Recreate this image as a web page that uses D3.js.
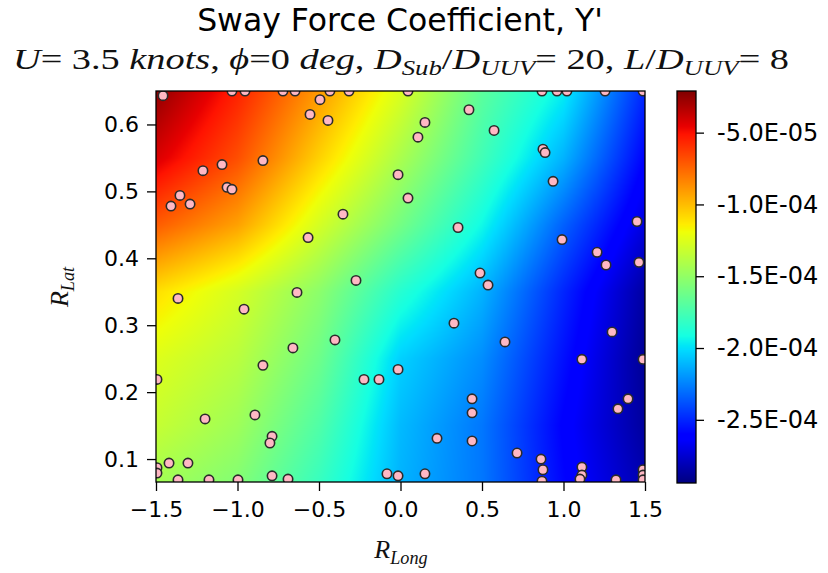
<!DOCTYPE html>
<html>
<head>
<meta charset="utf-8">
<script src="https://cdn.jsdelivr.net/npm/d3@7"></script>
<style>
body { margin: 0; background: #fff; }
</style>
</head>
<body>
<svg width="828" height="573"></svg>
<script>
// field samples (values of Y')
var xGrid = [-1.5, -1.0, -0.5, 0.0, 0.5, 1.0, 1.5];
var yGrid = [0.066, 0.15, 0.25, 0.35, 0.45, 0.55, 0.65];
var gridVals = [
    [-1.44e-4, -1.55e-4, -1.80e-4, -2.12e-4, -2.28e-4, -2.59e-4, -2.83e-4],
    [-1.33e-4, -1.46e-4, -1.72e-4, -2.10e-4, -2.28e-4, -2.61e-4, -2.87e-4],
    [-1.25e-4, -1.37e-4, -1.62e-4, -2.04e-4, -2.22e-4, -2.56e-4, -2.89e-4],
    [-1.10e-4, -1.28e-4, -1.52e-4, -1.86e-4, -2.12e-4, -2.50e-4, -2.86e-4],
    [-0.72e-4, -0.92e-4, -1.28e-4, -1.60e-4, -1.93e-4, -2.34e-4, -2.72e-4],
    [-0.42e-4, -0.68e-4, -1.06e-4, -1.42e-4, -1.77e-4, -2.12e-4, -2.60e-4],
    [-0.25e-4, -0.55e-4, -0.90e-4, -1.26e-4, -1.68e-4, -1.96e-4, -2.50e-4]
];

// sample points
var ptX = [-1.034, -0.954, -0.721, -0.647, -0.433, -0.316, 0.046, 0.868, 0.960, 1.021, 1.255, 1.488,
    -1.457, -0.494, -0.555, -0.445, -0.844, -1.095, -1.212, -1.064, -1.034, -1.353, -1.408, -1.291,
    -0.015, -0.353, -0.567, -0.273, 0.420, 0.150, 0.107, 0.574, 0.874, 0.887, 0.936, 0.046, 0.353,
    1.451, 0.991, 1.206, 1.261, 1.463, 0.488, 0.537, -1.365, -0.635, -0.960, -0.402, -0.660, -0.844,
    -1.494, -0.224, -0.132, -0.015, -1.199, -0.893, -0.788, -0.801, -1.420, -1.304, -1.494, -1.494,
    -1.365, -1.175, -0.997, -0.788, -0.690, -0.083, -0.015, 0.328, 0.641, 1.298, 1.113, 1.488,
    0.439, 0.439, 1.396, 1.334, 0.224, 0.439, 0.715, 0.862, 0.874, 1.113, 1.113, 1.101, 0.150,
    0.868, 1.322, 1.488, 1.488, 1.488];
var ptY = [0.650, 0.650, 0.650, 0.650, 0.650, 0.650, 0.650, 0.650, 0.650, 0.650, 0.650, 0.650,
    0.643, 0.637, 0.615, 0.606, 0.546, 0.540, 0.531, 0.506, 0.503, 0.494, 0.478, 0.481,
    0.525, 0.466, 0.431, 0.367, 0.622, 0.603, 0.581, 0.591, 0.563, 0.558, 0.515, 0.490, 0.446,
    0.455, 0.428, 0.409, 0.390, 0.394, 0.378, 0.360, 0.340, 0.349, 0.324, 0.278, 0.266, 0.240,
    0.219, 0.219, 0.219, 0.234, 0.160, 0.166, 0.134, 0.124, 0.094, 0.094, 0.087, 0.079,
    0.069, 0.069, 0.069, 0.075, 0.070, 0.078, 0.075, 0.303, 0.275, 0.290, 0.249, 0.249,
    0.190, 0.169, 0.190, 0.175, 0.131, 0.127, 0.109, 0.100, 0.084, 0.088, 0.076, 0.070, 0.078,
    0.067, 0.069, 0.084, 0.076, 0.069];

var xTicks = [-1.5, -1.0, -0.5, 0.0, 0.5, 1.0, 1.5];
var yTicks = [0.1, 0.2, 0.3, 0.4, 0.5, 0.6];
var cTicks = [-5e-5, -1e-4, -1.5e-4, -2e-4, -2.5e-4];
var cMin = -2.94e-4, cMax = -2.1e-5;

var svg = d3.select('svg');
var pLeft = 156, pRight = 645, pTop = 91, pBottom = 482;

var scaleX = d3.scaleLinear().domain([-1.5, 1.5]).range([pLeft, pRight]);
var scaleY = d3.scaleLinear().domain([0.0657, 0.65]).range([pBottom, pTop]);

// jet colormap
var jr = d3.scaleLinear().domain([0, 0.35, 0.66, 0.89, 1]).range([0, 0, 1, 1, 0.5]).clamp(true);
var jg = d3.scaleLinear().domain([0, 0.125, 0.375, 0.64, 0.91, 1]).range([0, 0, 1, 1, 0, 0]).clamp(true);
var jb = d3.scaleLinear().domain([0, 0.11, 0.34, 0.65, 1]).range([0.5, 1, 1, 0, 0]).clamp(true);
var toT = d3.scaleLinear().domain([cMin, cMax]).range([0, 1]).clamp(true);
function jet(v) {
    var t = toT(v);
    return [Math.round(jr(t) * 255), Math.round(jg(t) * 255), Math.round(jb(t) * 255)];
}

// heat map
var gx = d3.scaleLinear().domain(xGrid).range(d3.range(xGrid.length)).clamp(true);
var gy = d3.scaleLinear().domain(yGrid).range(d3.range(yGrid.length)).clamp(true);
function field(x, y) {
    var fi = gx(x), fj = gy(y);
    var i0 = Math.min(Math.floor(fi), xGrid.length - 2), j0 = Math.min(Math.floor(fj), yGrid.length - 2);
    var u = fi - i0, v = fj - j0;
    return (1 - u) * (1 - v) * gridVals[j0][i0] + u * (1 - v) * gridVals[j0][i0 + 1]
        + (1 - u) * v * gridVals[j0 + 1][i0] + u * v * gridVals[j0 + 1][i0 + 1];
}

var w = pRight - pLeft, h = pBottom - pTop;
var canvas = document.createElement('canvas');
canvas.width = w; canvas.height = h;
var ctx = canvas.getContext('2d');
var img = ctx.createImageData(w, h);
for (var j = 0; j < h; j++) {
    var dy = scaleY.invert(pTop + j + 0.5);
    for (var i = 0; i < w; i++) {
        var c = jet(field(scaleX.invert(pLeft + i + 0.5), dy));
        var k = (j * w + i) * 4;
        img.data[k] = c[0]; img.data[k + 1] = c[1]; img.data[k + 2] = c[2]; img.data[k + 3] = 255;
    }
}
ctx.putImageData(img, 0, 0);
svg.append('image')
    .attr('x', pLeft).attr('y', pTop)
    .attr('width', w).attr('height', h)
    .attr('preserveAspectRatio', 'none')
    .attr('href', canvas.toDataURL());

svg.append('clipPath').attr('id', 'plotclip')
    .append('rect').attr('x', pLeft).attr('y', pTop).attr('width', w).attr('height', h);

svg.append('g')
    .attr('clip-path', 'url(#plotclip)')
    .selectAll('circle')
    .data(ptX)
    .enter()
    .append('circle')
    .attr('cx', function (d) { return scaleX(d); })
    .attr('cy', function (d, i) { return scaleY(ptY[i]); })
    .attr('r', 4.7)
    .attr('fill', '#ffb8c4')
    .attr('stroke', '#2b2b2b')
    .attr('stroke-width', 1.6);

svg.append('rect')
    .attr('x', pLeft).attr('y', pTop).attr('width', w).attr('height', h)
    .attr('fill', 'none').attr('stroke', '#000').attr('stroke-width', 1.3);

// axes
var xAxis = svg.append('g')
    .attr('transform', 'translate(0,' + pBottom + ')')
    .call(d3.axisBottom(scaleX).tickValues(xTicks).tickFormat(d3.format('.1f')).tickSize(9).tickPadding(10));
var yAxis = svg.append('g')
    .attr('transform', 'translate(' + pLeft + ',0)')
    .call(d3.axisLeft(scaleY).tickValues(yTicks).tickFormat(d3.format('.1f')).tickSize(9).tickPadding(8));

// colorbar
var cbLeft = 677, cbW = 19, cbTop = 91, cbBottom = 483;
var scaleC = d3.scaleLinear().domain([cMin, cMax]).range([cbBottom, cbTop]);
var cb = document.createElement('canvas');
cb.width = 1; cb.height = cbBottom - cbTop;
var cctx = cb.getContext('2d');
var cimg = cctx.createImageData(1, cb.height);
for (var r = 0; r < cb.height; r++) {
    var cc = jet(scaleC.invert(cbTop + r + 0.5));
    cimg.data[r * 4] = cc[0]; cimg.data[r * 4 + 1] = cc[1]; cimg.data[r * 4 + 2] = cc[2]; cimg.data[r * 4 + 3] = 255;
}
cctx.putImageData(cimg, 0, 0);
svg.append('image')
    .attr('x', cbLeft).attr('y', cbTop)
    .attr('width', cbW).attr('height', cbBottom - cbTop)
    .attr('preserveAspectRatio', 'none')
    .attr('href', cb.toDataURL());
svg.append('rect')
    .attr('x', cbLeft).attr('y', cbTop).attr('width', cbW).attr('height', cbBottom - cbTop)
    .attr('fill', 'none').attr('stroke', '#000').attr('stroke-width', 1.3);

function fmtE(d) {
    var s = d.toExponential(1).split('e');
    var e = +s[1];
    return s[0] + 'E' + (e < 0 ? '-' : '+') + String(Math.abs(e)).padStart(2, '0');
}
var cAxis = svg.append('g')
    .attr('transform', 'translate(' + (cbLeft + cbW) + ',0)')
    .call(d3.axisRight(scaleC).tickValues(cTicks).tickFormat(fmtE).tickSize(8).tickPadding(13));

[xAxis, yAxis, cAxis].forEach(function (g) {
    g.select('.domain').remove();
    g.selectAll('.tick line').attr('stroke', '#000').attr('stroke-width', 1.3);
    g.selectAll('.tick text').attr('fill', '#000').attr('font-size', 22).attr('font-family', 'DejaVu Sans');
});
cAxis.selectAll('.tick text').attr('font-size', 24);

// titles
svg.append('text')
    .attr('x', 400).attr('y', 31)
    .attr('text-anchor', 'middle')
    .attr('font-family', 'DejaVu Sans')
    .attr('font-size', 31.5)
    .text("Sway Force Coefficient, Y'");

var subParts = [
    { t: 'U', it: 1 }, { t: '= 3.5 ', it: 0 }, { t: 'knots', it: 1 }, { t: ', ', it: 0 },
    { t: '\u03d5', it: 1 }, { t: '=0 ', it: 0 }, { t: 'deg', it: 1 }, { t: ', ', it: 0 },
    { t: 'D', it: 1 }, { t: 'Sub', it: 1, sub: 1 }, { t: '/', it: 0 }, { t: 'D', it: 1 }, { t: 'UUV', it: 1, sub: 1 },
    { t: '= 20, ', it: 0 }, { t: 'L', it: 1 }, { t: '/', it: 0 }, { t: 'D', it: 1 }, { t: 'UUV', it: 1, sub: 1 },
    { t: '= 8', it: 0 }
];
function mathText(x, y, size, parts, rotate, len) {
    var t = svg.append('text')
        .attr('x', x).attr('y', y)
        .attr('text-anchor', 'middle')
        .attr('font-family', 'Liberation Serif')
        .attr('fill', '#111')
        .attr('font-size', size);
    if (rotate) t.attr('transform', 'rotate(-90,' + x + ',' + y + ')');
    if (len) t.attr('textLength', len).attr('lengthAdjust', 'spacingAndGlyphs');
    var shifted = false;
    parts.forEach(function (p) {
        var s = t.append('tspan').text(p.t)
            .attr('font-style', p.it ? 'italic' : 'normal');
        if (p.sub) {
            s.attr('font-size', size * 0.7);
            if (!shifted) { s.attr('dy', size * 0.22); shifted = true; }
        } else if (shifted) {
            s.attr('dy', -size * 0.22); shifted = false;
        }
    });
    return t;
}
mathText(401, 69, 29, subParts, false, 776);
mathText(401, 558, 26, [{ t: 'R', it: 1 }, { t: 'Long', it: 1, sub: 1 }]);
mathText(68, 287, 26, [{ t: 'R', it: 1 }, { t: 'Lat', it: 1, sub: 1 }], true);
</script>
</body>
</html>
